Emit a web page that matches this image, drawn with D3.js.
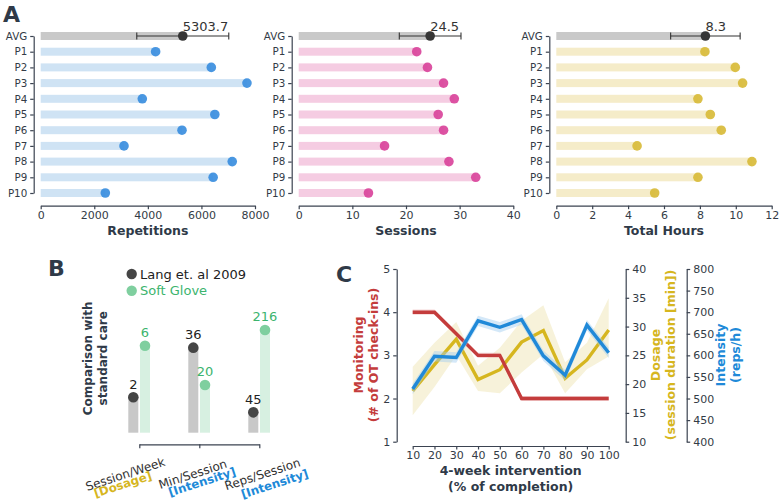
<!DOCTYPE html>
<html><head><meta charset="utf-8">
<script src="https://cdn.jsdelivr.net/npm/d3@7"></script>
<style>
body{margin:0;background:#fff;}
svg{display:block;font-family:"DejaVu Sans",sans-serif;}
</style></head><body>
<svg id="chart" width="779" height="500"></svg>
<script>
// ---------------- Data ----------------
const rowLabels = ["AVG","P1","P2","P3","P4","P5","P6","P7","P8","P9","P10"];
const participants = ["P1","P2","P3","P4","P5","P6","P7","P8","P9","P10"];
const repetitions = [4290,6369,7700,3793,6500,5275,3110,7150,6438,2412];
const sessions = [22,24,27,29,26,27,16,28,33,13];
const totalHours = [8.28,9.97,10.38,7.89,8.58,9.19,4.5,10.9,7.89,5.48];
const repTicks = [0,2000,4000,6000,8000];
const sessionTicks = [0,10,20,30,40];
const hourTicks = [0,2,4,6,8,10,12];

const compareCategories = ["Session/Week","Min/Session","Reps/Session"];
const compareTags = ["[Dosage]","[Intensity]","[Intensity]"];
const langValues = [2,36,45];
const gloveValues = [6,20,216];
const langRelative = [0.322,0.773,0.185];
const gloveRelative = [0.791,0.434,0.934];
const legendLabels = ["Lang et. al 2009","Soft Glove"];

const progress = [10,20,30,40,50,60,70,80,90,100];
const monitoring = [4,4,3.5,3,3,2,2,2,2,2];
const monitoringLow = [3.94,3.94,3.44,2.94,2.94,1.94,1.94,1.94,1.94,1.94];
const monitoringHigh = [4.06,4.06,3.56,3.06,3.06,2.06,2.06,2.06,2.06,2.06];
const dosage = [18.8,23.4,27.8,20.8,22.5,27.3,29.3,21,24.2,29.4];
const dosageLow = [14.6,19.5,25,18.8,18.4,22,25.2,18.4,22.6,24.8];
const dosageHigh = [23,27.2,30.8,23.2,26.3,31,33.7,23.8,27.2,34.9];
const intensity = [522,598,595,680,665,683,599,554,670,606];
const intensityLow = [510,586,583,668,653,671,587,542,658,594];
const intensityHigh = [534,610,607,692,677,695,611,566,682,618];
const progressTicks = [10,20,30,40,50,60,70,80,90,100];
const monitoringTicks = [1,2,3,4,5];
const dosageTicks = [10,15,20,25,30,35,40];
const intensityTicks = [400,450,500,550,600,650,700,750,800];

// ---------------- Styles ----------------
const svg = d3.select("#chart");
const slate = "#2f3a48";
const axisCol = "#3b4351";
const tickText = "#333b46";
const FONT = "DejaVu Sans";
const red = "#c43c3c", yellow = "#d6b61f", blue = "#2089d8", green = "#3cb46e";
const fmtInt = d3.format("d");

function styleAxis(g, fs){
  g.attr("font-family", null).attr("font-size", null);
  g.select(".domain").attr("stroke", axisCol).attr("stroke-width", 1.2);
  g.selectAll(".tick line").attr("stroke", axisCol).attr("stroke-width", 1.2);
  g.selectAll(".tick text").attr("fill", tickText)
    .style("font-size", fs + "px").style("font-family", FONT);
}
function letter(txt, x, y){
  svg.append("text").attr("x", x).attr("y", y).text(txt)
    .attr("fill", slate).style("font-size", "22px").style("font-weight", "bold");
}

// ---------------- Panel A ----------------
letter("A", 3, 22);
const panelsA = [
  {values: repetitions, max: 8000, ticks: repTicks, title: "Repetitions", x0: 40.7, x1: 255, dot: "#3b8ede", bar: "#cfe3f4"},
  {values: sessions, max: 40, ticks: sessionTicks, title: "Sessions", x0: 298.7, x1: 513.3, dot: "#d9449b", bar: "#f5cce2"},
  {values: totalHours, max: 12, ticks: hourTicks, title: "Total Hours", x0: 556.3, x1: 771.7, dot: "#d8bb3a", bar: "#f5ecc9"}
];
const yA = d3.scalePoint().domain(rowLabels).range([36, 193]);
const barH = 8;
panelsA.forEach(p => {
  const x = d3.scaleLinear().domain([0, p.max]).range([p.x0, p.x1]);
  const g = svg.append("g");
  const mean = d3.mean(p.values);
  const sd = Math.sqrt(d3.mean(p.values, v => (v - mean) ** 2));
  g.selectAll("rect.bar").data(p.values).join("rect").attr("class", "bar")
    .attr("x", x(0)).attr("y", (d, i) => yA(participants[i]) - barH / 2)
    .attr("width", d => x(d) - x(0)).attr("height", barH).attr("fill", p.bar);
  g.append("rect").attr("x", x(0)).attr("y", yA("AVG") - barH / 2)
    .attr("width", x(mean) - x(0)).attr("height", barH).attr("fill", "#c9c9c9");
  const ya = yA("AVG");
  g.append("line").attr("x1", x(mean - sd)).attr("x2", x(mean + sd)).attr("y1", ya).attr("y2", ya)
    .attr("stroke", "#333").attr("stroke-width", 1.1);
  [mean - sd, mean + sd].forEach(v => g.append("line").attr("x1", x(v)).attr("x2", x(v))
    .attr("y1", ya - 3.5).attr("y2", ya + 3.5).attr("stroke", "#333").attr("stroke-width", 1.1));
  g.selectAll("circle.dot").data(p.values).join("circle").attr("class", "dot")
    .attr("cx", d => x(d)).attr("cy", (d, i) => yA(participants[i])).attr("r", 4.8)
    .attr("fill", p.dot).attr("fill-opacity", 0.92);
  g.append("circle").attr("cx", x(mean)).attr("cy", ya).attr("r", 4.8).attr("fill", "#363636");
  g.append("text").attr("x", x(mean)).attr("y", 30.5).text(d3.format(".1f")(mean))
    .attr("fill", "#333").style("font-size", "13px");
  const ax = g.append("g").attr("transform", "translate(0,205.7)")
    .call(d3.axisBottom(x).tickValues(p.ticks).tickFormat(fmtInt).tickSize(3.5).tickSizeOuter(0).tickPadding(2));
  styleAxis(ax, 11);
  const ay = g.append("g").attr("transform", `translate(${p.x0 - 7},0)`)
    .call(d3.axisLeft(yA).tickSize(3.5).tickSizeOuter(0).tickPadding(3));
  styleAxis(ay, 10.3);
  g.append("text").attr("x", (p.x0 + p.x1) / 2).attr("y", 235).attr("text-anchor", "middle")
    .text(p.title).attr("fill", slate).style("font-size", "12.5px").style("font-weight", "bold");
});

// ---------------- Panel B ----------------
letter("B", 48, 276);
const xB = d3.scalePoint().domain(compareCategories).range([139.3, 259.3]);
const yB = d3.scaleLinear().domain([0, 1]).range([432.7, 322.7]);
const gB = svg.append("g");
const bw = 10;
gB.selectAll("rect.lang").data(langRelative).join("rect")
  .attr("x", (d, i) => xB(compareCategories[i]) - 11).attr("y", d => yB(d))
  .attr("width", bw).attr("height", d => yB(0) - yB(d)).attr("fill", "#c8c8c8");
gB.selectAll("rect.glove").data(gloveRelative).join("rect")
  .attr("x", (d, i) => xB(compareCategories[i]) + 0.7).attr("y", d => yB(d))
  .attr("width", bw).attr("height", d => yB(0) - yB(d)).attr("fill", "#d7f0e1");
gB.selectAll("circle.lang").data(langRelative).join("circle")
  .attr("cx", (d, i) => xB(compareCategories[i]) - 6).attr("cy", d => yB(d)).attr("r", 5.3).attr("fill", "#454545");
gB.selectAll("circle.glove").data(gloveRelative).join("circle")
  .attr("cx", (d, i) => xB(compareCategories[i]) + 5.7).attr("cy", d => yB(d)).attr("r", 5.3).attr("fill", "#7fcf9f");
gB.selectAll("text.lang").data(langValues).join("text")
  .attr("x", (d, i) => xB(compareCategories[i]) - 6).attr("y", (d, i) => yB(langRelative[i]) - 8.5)
  .attr("text-anchor", "middle").text(d => d).attr("fill", "#222").style("font-size", "13px");
gB.selectAll("text.glove").data(gloveValues).join("text")
  .attr("x", (d, i) => xB(compareCategories[i]) + 5.7).attr("y", (d, i) => yB(gloveRelative[i]) - 8.5)
  .attr("text-anchor", "middle").text(d => d).attr("fill", green).style("font-size", "13px");
const axB = gB.append("g").attr("transform", "translate(0,444.3)")
  .call(d3.axisBottom(xB).tickSize(4).tickSizeOuter(0).tickFormat(""));
styleAxis(axB, 11);
// category labels (rotated)
const l1dx = [-14, -6.5, 3.2], l2dx = [-16.5, 2.7, 15.4], l2y = [484.5, 482, 484];
compareCategories.forEach((c, i) => {
  const tx = xB(c);
  gB.append("text").attr("transform", `translate(${tx + l1dx[i]},474.3) rotate(-18)`)
    .attr("text-anchor", "middle").attr("dominant-baseline", "central")
    .text(c).attr("fill", "#333").style("font-size", "12px");
  gB.append("text").attr("transform", `translate(${tx + l2dx[i]},${l2y[i]}) rotate(-18)`)
    .attr("text-anchor", "middle").attr("dominant-baseline", "central")
    .text(compareTags[i]).attr("fill", compareTags[i] === "[Dosage]" ? yellow : blue)
    .style("font-size", "11.8px").style("font-weight", "bold");
});
// legend
const legColors = ["#454545", "#7fcf9f"], legText = ["#222", green];
legendLabels.forEach((t, i) => {
  const yy = 274 + i * 16.7;
  gB.append("circle").attr("cx", 131.7).attr("cy", yy).attr("r", 5.2).attr("fill", legColors[i]);
  gB.append("text").attr("x", 140).attr("y", yy).attr("dominant-baseline", "central")
    .text(t).attr("fill", legText[i]).style("font-size", "13px");
});
// y label
[["Comparison with", 88.3], ["standard care", 103.3]].forEach(([t, x]) => {
  gB.append("text").attr("transform", `translate(${x},358.3) rotate(-90)`)
    .attr("text-anchor", "middle").attr("dominant-baseline", "central")
    .text(t).attr("fill", slate).style("font-size", "12px").style("font-weight", "bold");
});

// ---------------- Panel C ----------------
letter("C", 336, 282);
const gC = svg.append("g");
const xC = d3.scaleLinear().domain([10, 100]).range([412.7, 608.7]);
const yMon = d3.scaleLinear().domain([1, 5]).range([441.7, 269]);
const yDos = d3.scaleLinear().domain([10, 40]).range([441.7, 269]);
const yInt = d3.scaleLinear().domain([400, 800]).range([441.7, 269]);

function band(lo, hi, y, col, op){
  const area = d3.area().x((d, i) => xC(progress[i])).y0((d, i) => y(lo[i])).y1((d, i) => y(hi[i]));
  gC.append("path").attr("d", area(progress)).attr("fill", col).attr("fill-opacity", op);
}
function line(vals, y, col){
  const ln = d3.line().x((d, i) => xC(progress[i])).y(d => y(d));
  gC.append("path").attr("d", ln(vals)).attr("fill", "none").attr("stroke", col)
    .attr("stroke-width", 3.4).attr("stroke-linejoin", "miter");
}
band(dosageLow, dosageHigh, yDos, "#ecdfa6", 0.42);
line(dosage, yDos, yellow);
band(monitoringLow, monitoringHigh, yMon, "#e9a5a5", 0.45);
line(monitoring, yMon, red);
band(intensityLow, intensityHigh, yInt, "#9fcdf0", 0.45);
line(intensity, yInt, blue);

const axX = gC.append("g").attr("transform", "translate(0,446)")
  .call(d3.axisBottom(xC).tickValues(progressTicks).tickFormat(fmtInt).tickSize(3.5).tickSizeOuter(0).tickPadding(2));
styleAxis(axX, 11);
const axM = gC.append("g").attr("transform", "translate(396.7,0)")
  .call(d3.axisLeft(yMon).tickValues(monitoringTicks).tickFormat(fmtInt).tickSize(3.5).tickSizeOuter(0).tickPadding(3));
styleAxis(axM, 11);
const axD = gC.append("g").attr("transform", "translate(625.7,0)")
  .call(d3.axisRight(yDos).tickValues(dosageTicks).tickFormat(fmtInt).tickSize(3.5).tickSizeOuter(0).tickPadding(3));
styleAxis(axD, 11);
const axI = gC.append("g").attr("transform", "translate(686.7,0)")
  .call(d3.axisRight(yInt).tickValues(intensityTicks).tickFormat(fmtInt).tickSize(3.5).tickSizeOuter(0).tickPadding(3));
styleAxis(axI, 11);

[["4-week intervention", 475], ["(% of completion)", 490.5]].forEach(([t, y]) => {
  gC.append("text").attr("x", 510.7).attr("y", y).attr("text-anchor", "middle")
    .text(t).attr("fill", slate).style("font-size", "12.5px").style("font-weight", "bold");
});
function vlabel(t, x, col){
  gC.append("text").attr("transform", `translate(${x},355) rotate(-90)`)
    .attr("text-anchor", "middle").attr("dominant-baseline", "central")
    .text(t).attr("fill", col).style("font-size", "12.5px").style("font-weight", "bold");
}
vlabel("Monitoring", 358.3, red);
vlabel("(# of OT check-ins)", 373.3, red);
vlabel("Dosage", 655, yellow);
vlabel("(session duration [min])", 670, yellow);
vlabel("Intensity", 720, blue);
vlabel("(reps/h)", 735, blue);
</script>
</body></html>
